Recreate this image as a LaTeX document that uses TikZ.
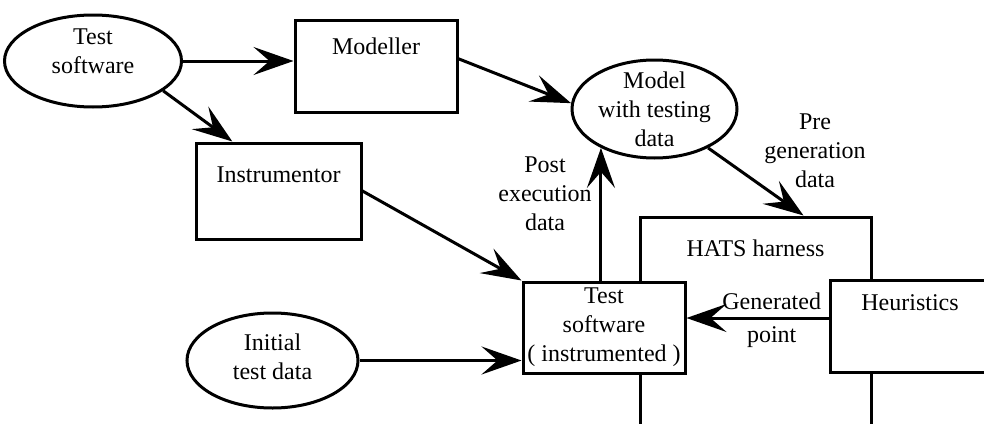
\documentclass[tikz,border=0pt]{standalone}
\usepackage{fontspec}
\setmainfont{Liberation Serif}
\usetikzlibrary{shapes.geometric,arrows.meta}

\tikzset{
  blob/.style={ellipse, draw, line width=1.5pt, inner sep=0pt},
  box/.style={rectangle, draw, fill=white, line width=1.5pt, inner sep=0pt},
  caption/.style={shape=rectangle, draw=none, fill=none, align=center, inner sep=0pt},
  toptext/.style={caption, anchor=north, yshift=-#1},
  flow/.style={line width=1.5pt, -{Stealth[length=20pt,width=14pt,inset=8pt]}}
}

\begin{document}
\begin{tikzpicture}[x=0.5pt, y=-0.5pt, font=\fontsize{12}{14.5}\selectfont]
  \useasboundingbox (0,0) rectangle (984,423);
  \clip (0,0) rectangle (984,423);

  % boxes (harness first, the others sit on top of it)
  \begin{scope}[every node/.style={box}]
    \node[minimum width=115.5pt, minimum height=116.5pt,
          label={[toptext=11.5pt]north:HATS harness}] (hats) at (755.5,333.5) {};
    \node[minimum width=81pt, minimum height=46pt,
          label={[toptext=9pt]north:Modeller}] (mod) at (376,66) {};
    \node[minimum width=82.5pt, minimum height=48pt,
          label={[toptext=12pt]north:Instrumentor}] (ins) at (278.5,191) {};
    \node[minimum width=81pt, minimum height=45.5pt,
          label={[toptext=3pt]north:Test\\software\\( instrumented )}] (tsi) at (604,327.5) {};
    \node[minimum width=80pt, minimum height=46pt,
          label={[toptext=7.5pt]north:Heuristics}] (heur) at (910,326) {};
  \end{scope}

  % data stores
  \begin{scope}[every node/.style={blob}]
    \node[minimum width=88.5pt, minimum height=46pt,
          label={[caption,yshift=5pt]center:Test\\software}] (tsw) at (93,61) {};
    \node[minimum width=82.5pt, minimum height=49pt,
          label={[caption]center:Model\\with testing\\data}] (model) at (654.5,109) {};
    \node[minimum width=85.5pt, minimum height=47.5pt,
          label={[caption,yshift=2pt]center:Initial\\test data}] (init) at (272.5,360.5) {};
  \end{scope}

  \node[caption] (post) at (545,194) {Post\\execution\\data};
  \node[caption] (pre) at (815,151) {Pre\\generation\\data};

  % flows
  \draw[flow] (tsw.east) -- (tsw.east -| mod.west);
  \draw[flow] (tsw.-23) -- (ins.133);
  \draw[flow] (mod.5) -- (model.176);
  \draw[flow] (ins.east) -- (tsi.north west);
  \draw[flow] (init.east) -- (init.east -| tsi.west);
  \draw[flow] (model.216 |- tsi.north) -- (model.216);
  \draw[flow] (model.-36) -- ([xshift=24pt]hats.north);
  \draw[flow] ([yshift=4pt]heur.west) -- ([yshift=4pt]heur.west -| tsi.east)
    node[pos=0.4, above] {Generated} node[pos=0.4, below] {point};

\end{tikzpicture}
\end{document}
